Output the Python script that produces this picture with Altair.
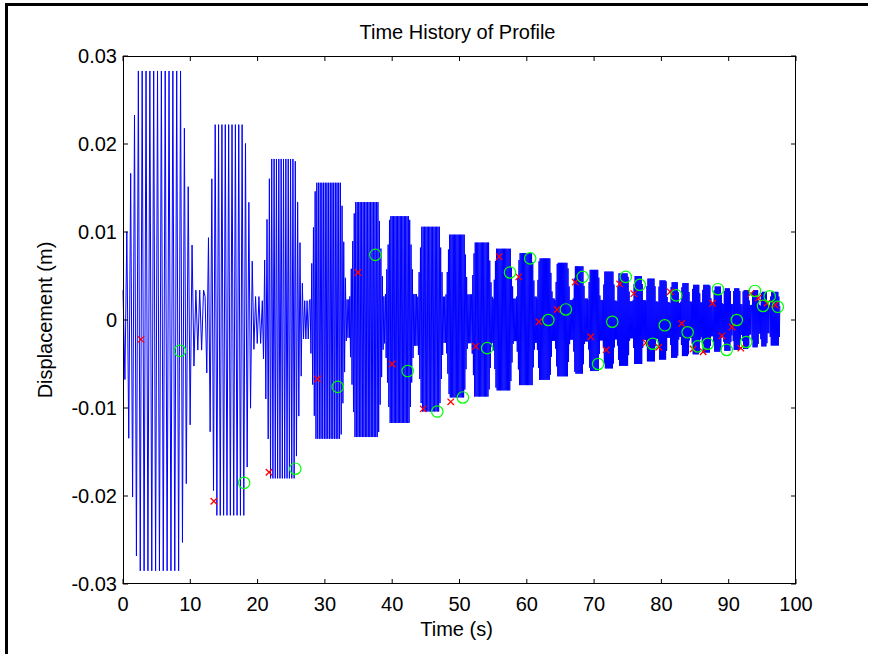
import altair as alt
import pandas as pd

# ---- beating-envelope lobes ----
lobe_start = [0.0, 12.2, 20.7, 27.8, 33.7, 39.0, 43.8, 48.0, 51.8, 55.0, 58.5, 61.5, 64.2, 66.9, 69.1,
              71.3, 73.4, 75.8, 77.7, 79.5, 81.3, 82.9, 84.5, 86.0, 87.7, 89.2, 90.6, 92.0, 93.4, 94.7, 96.1]
lobe_end = [10.7, 19.5, 26.8, 33.2, 38.7, 43.2, 47.6, 51.2, 54.8, 58.0, 61.2, 63.8, 66.4, 68.6, 70.9,
            73.1, 75.3, 77.3, 79.2, 80.9, 82.6, 84.2, 85.8, 87.4, 89.0, 90.4, 91.8, 93.1, 94.5, 95.8, 97.6]
lobe_top = [0.0283, 0.0222, 0.0183, 0.0156, 0.0134, 0.0118, 0.0106, 0.0097, 0.0088, 0.0081, 0.0076,
            0.0070, 0.0065, 0.0061, 0.0057, 0.0055, 0.0053, 0.0050, 0.0047, 0.0045, 0.0043, 0.0042,
            0.0040, 0.0040, 0.0038, 0.0036, 0.0036, 0.0034, 0.0034, 0.0032, 0.0032]
lobe_bottom = [-0.0285, -0.0222, -0.0180, -0.0135, -0.0133, -0.0117, -0.0104, -0.0088, -0.0087,
               -0.0080, -0.0074, -0.0068, -0.0064, -0.0061, -0.0058, -0.0055, -0.0052, -0.0050,
               -0.0047, -0.0045, -0.0043, -0.0041, -0.0039, -0.0037, -0.0036, -0.0035, -0.0034,
               -0.0033, -0.0031, -0.0030, -0.0029]
carrier_period = [0.57, 0.50, 0.35, 0.25, 0.22, 0.20, 0.20, 0.18, 0.18, 0.17, 0.17, 0.16, 0.16, 0.16,
                  0.16, 0.15, 0.15, 0.15, 0.15, 0.15, 0.15, 0.15, 0.15, 0.15, 0.15, 0.15, 0.15, 0.15,
                  0.15, 0.15, 0.15]
edge_fraction = [0.2, 0.2, 0.2, 0.15, 0.15, 0.15, 0.15, 0.15, 0.15, 0.15, 0.15, 0.15, 0.15, 0.15, 0.15,
                 0.15, 0.15, 0.15, 0.15, 0.15, 0.15, 0.15, 0.15, 0.15, 0.15, 0.15, 0.15, 0.15, 0.15,
                 0.15, 0.15]
node_level = [0.12, 0.12, 0.12, 0.15, 0.2, 0.25, 0.25, 0.3, 0.3, 0.3, 0.35, 0.35, 0.35, 0.4, 0.4,
              0.4, 0.4, 0.45, 0.45, 0.45, 0.45, 0.5, 0.5, 0.5, 0.5, 0.5, 0.5, 0.5, 0.5, 0.5, 0.5]

# ---- marker points ----
red_t = [2.67, 13.5, 21.7, 28.9, 34.9, 40.0, 44.6, 48.7, 52.4, 55.9, 58.8, 61.8, 64.5, 67.2, 69.5, 71.8,
         73.8, 75.9, 77.7, 79.6, 81.3, 83.0, 84.7, 86.2, 87.6, 89.0, 90.5, 91.8, 93.3, 94.4, 95.7, 96.9]
red_v = [-0.0022, -0.0206, -0.0173, -0.0067, 0.0054, -0.0050, -0.0101, -0.0093, -0.0030, 0.0072, 0.0049,
         -0.0002, 0.0012, 0.0043, -0.0019, -0.0034, 0.0041, 0.0030, -0.0026, -0.0031, 0.0032, -0.0004,
         -0.0033, -0.0036, 0.0019, -0.0018, -0.0008, -0.0032, 0.0030, 0.0025, 0.0019, 0.0017]
green_t = [8.47, 18.0, 25.6, 31.9, 37.5, 42.3, 46.7, 50.5, 54.1, 57.5, 60.5, 63.2, 65.8, 68.3, 70.6, 72.7,
           74.7, 76.8, 78.7, 80.5, 82.2, 83.9, 85.4, 86.9, 88.4, 89.7, 91.2, 92.6, 93.9, 95.1, 96.1, 97.3]
green_v = [-0.0035, -0.0185, -0.0169, -0.0076, 0.0074, -0.0058, -0.0104, -0.0088, -0.0032, 0.0054, 0.0070,
           0.0000, 0.0012, 0.0049, -0.0050, -0.0002, 0.0049, 0.0040, -0.0027, -0.0006, 0.0028, -0.0014,
           -0.0030, -0.0027, 0.0035, -0.0034, 0.0000, -0.0025, 0.0033, 0.0016, 0.0027, 0.0015]

x_ticks = [0, 10, 20, 30, 40, 50, 60, 70, 80, 90, 100]
x_labels = ["0", "10", "20", "30", "40", "50", "60", "70", "80", "90", "100"]
y_ticks = [-0.03, -0.02, -0.01, 0.0, 0.01, 0.02, 0.03]
y_labels = ["-0.03", "-0.02", "-0.01", "0", "0.01", "0.02", "0.03"]

title_text = "Time History of Profile"
x_title = "Time (s)"
y_title = "Displacement (m)"

# ---- build the zig-zag trace from the lobe table ----
rows = []
n = len(lobe_start)
for i in range(n):
    s, e = lobe_start[i], lobe_end[i]
    stop = lobe_start[i + 1] if i + 1 < n else e
    half = carrier_period[i] / 2.0
    w = e - s
    edge = edge_fraction[i] * w
    lo = node_level[i]
    k = 0
    t = s
    while t < stop - 1e-9 or (i + 1 == n and t <= e + 1e-9):
        if t <= e:
            if t < s + edge:
                f = lo + (1 - lo) * (t - s) / edge
            elif t > e - edge:
                f = lo + (1 - lo) * (e - t) / edge
            else:
                f = 1.0
        else:
            f = lo
        v = lobe_top[i] * f if k % 2 == 0 else lobe_bottom[i] * f
        rows.append({"t": round(t, 4), "v": v})
        k += 1
        t += half
sig = pd.DataFrame(rows)

W, H = 673, 528
PAD_L, PAD_T, PAD_R, PAD_B = 123, 56, 73, 71
FONT = "Liberation Sans"
FS = 20

xs = alt.Scale(domain=[0, 100], nice=False, zero=False)
ys = alt.Scale(domain=[-0.03, 0.03], nice=False, zero=False)


def X(f):
    return alt.X(f, scale=xs, axis=None)


def Y(f):
    return alt.Y(f, scale=ys, axis=None)


line = alt.Chart(sig).mark_line(color="#0000ff", strokeWidth=1).encode(
    x=X("t:Q"), y=Y("v:Q"), order="t:Q")

red = alt.Chart(pd.DataFrame({"t": red_t, "v": red_v})).mark_point(
    shape="M-1,-1L1,1M-1,1L1,-1", filled=False, color="#ff0000", size=42, strokeWidth=1.3, opacity=1
).encode(x=X("t:Q"), y=Y("v:Q"))

green = alt.Chart(pd.DataFrame({"t": green_t, "v": green_v})).mark_point(
    shape="circle", filled=False, color="#00ff00", size=130, strokeWidth=1.2, opacity=1
).encode(x=X("t:Q"), y=Y("v:Q"))

xt = pd.DataFrame({"xv": x_ticks, "lab": x_labels})
yt = pd.DataFrame({"yv": y_ticks, "lab": y_labels})

tick_bottom = alt.Chart(xt).mark_rule(color="black", strokeWidth=1).encode(
    x=X("xv:Q"), y=alt.value(H), y2=alt.value(H - 5))
tick_top = alt.Chart(xt).mark_rule(color="black", strokeWidth=1).encode(
    x=X("xv:Q"), y=alt.value(0), y2=alt.value(5))
tick_left = alt.Chart(yt).mark_rule(color="black", strokeWidth=1).encode(
    y=Y("yv:Q"), x=alt.value(0), x2=alt.value(5))
tick_right = alt.Chart(yt).mark_rule(color="black", strokeWidth=1).encode(
    y=Y("yv:Q"), x=alt.value(W), x2=alt.value(W - 5))

x_lab = alt.Chart(xt).mark_text(font=FONT, fontSize=FS, color="black", align="center",
                                baseline="alphabetic").encode(
    x=X("xv:Q"), y=alt.value(H + 26.5), text="lab:N")
y_lab = alt.Chart(yt).mark_text(font=FONT, fontSize=FS, color="black", align="right",
                                baseline="alphabetic", dy=7).encode(
    y=Y("yv:Q"), x=alt.value(-6), text="lab:N")

one = pd.DataFrame({"title": [title_text], "xt": [x_title], "yt": [y_title]})
title_mark = alt.Chart(one).mark_text(font=FONT, fontSize=FS, color="black", align="center",
                                      baseline="alphabetic").encode(
    x=alt.value(W / 2 - 2), y=alt.value(-17), text="title:N")
x_title_mark = alt.Chart(one).mark_text(font=FONT, fontSize=FS, color="black", align="center",
                                        baseline="alphabetic").encode(
    x=alt.value(W / 2 - 3), y=alt.value(580), text="xt:N")
y_title_mark = alt.Chart(one).mark_text(font=FONT, fontSize=FS, color="black", align="center",
                                        baseline="alphabetic", angle=270).encode(
    x=alt.value(-71), y=alt.value(H / 2), text="yt:N")

box_h = alt.Chart(pd.DataFrame({"p": [0.5, H - 0.5]})).mark_rule(color="black", strokeWidth=1).encode(
    x=alt.value(0), x2=alt.value(W), y=alt.Y("p:Q", scale=None, axis=None))
box_v = alt.Chart(pd.DataFrame({"p": [0.5, W - 0.5]})).mark_rule(color="black", strokeWidth=1).encode(
    y=alt.value(0), y2=alt.value(H), x=alt.X("p:Q", scale=None, axis=None))

# figure frame (top and left edges only), drawn as thin filled bars
frame_top = alt.Chart(pd.DataFrame({"edge": ["top"]})).mark_rect(color="black", strokeWidth=0).encode(
    x=alt.value(-118), x2=alt.value(W + PAD_R - 1), y=alt.value(-53), y2=alt.value(-50))
frame_left = alt.Chart(pd.DataFrame({"edge": ["left"]})).mark_rect(color="black", strokeWidth=0).encode(
    x=alt.value(-118), x2=alt.value(-115), y=alt.value(-53), y2=alt.value(H + PAD_B - 1))

chart = alt.layer(
    line, red, green, tick_bottom, tick_top, tick_left, tick_right, box_h, box_v,
    x_lab, y_lab, title_mark, x_title_mark, y_title_mark, frame_top, frame_left
).properties(
    width=W, height=H,
    autosize=alt.AutoSizeParams(type="none"),
    padding={"left": PAD_L, "top": PAD_T, "right": PAD_R, "bottom": PAD_B},
    background="white",
).configure_view(strokeWidth=0, stroke=None)

chart.save("out.html", embed_options={"renderer": "svg", "actions": False})
